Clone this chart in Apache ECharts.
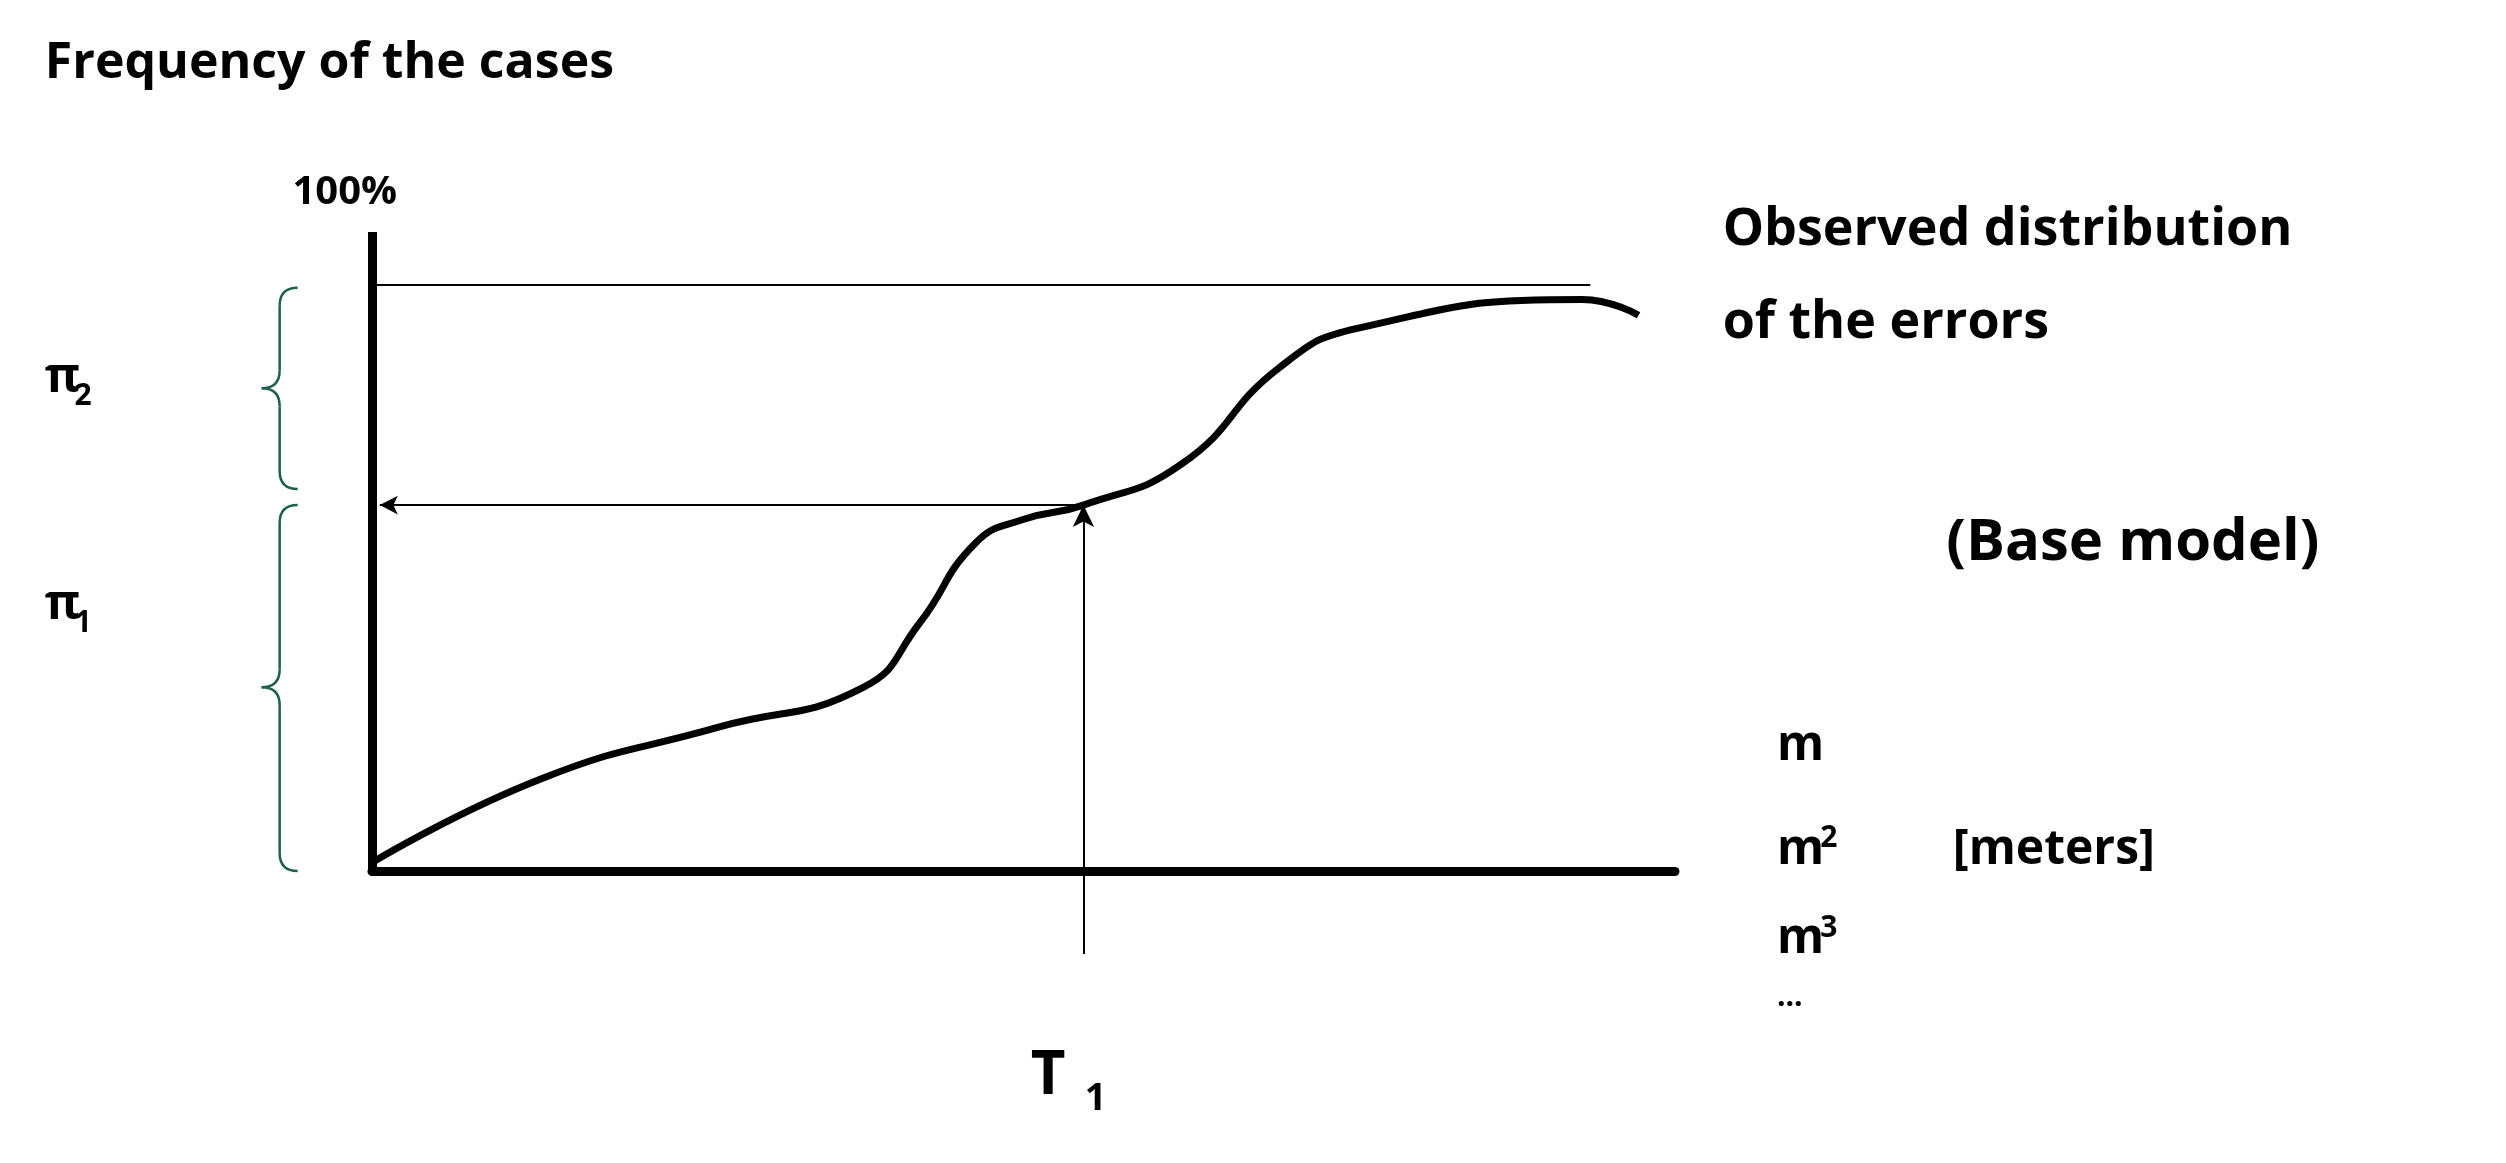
<!DOCTYPE html>
<html><head><meta charset="utf-8">
<script src="https://cdn.jsdelivr.net/npm/echarts@6/dist/echarts.min.js"></script>
<style>html,body{margin:0;background:#fff}#c{width:2506px;height:1163px}</style>
</head><body><div id="c"></div>
<script>
const curveX = [0, 13.1, 26.6, 37.7, 42, 46.3, 49.9, 54.6, 62.2, 69.6, 75.7, 92.9, 97.2];
const curveY = [1.4, 15.8, 24.5, 31.3, 42.2, 55.9, 59.9, 62.4, 69.5, 85.8, 92.6, 97.5, 94.8];
const T1 = 54.6, T1y = 62.4;
const S = 1.598;
const F = 'Open Sans, Noto Sans, sans-serif';
const chart = echarts.init(document.getElementById('c'));
function txt(x, y, t, size) {
  return {type:'text', x: x*S, y: y*S, style:{text:t, font:'bold '+size+'px '+F, fill:'#000'}};
}
function brace(x, y1, y2, ym) {
  x*=S; y1*=S; y2*=S; ym*=S; const w=18;
  const st = {stroke:'#1f5f4f', lineWidth:2.5, fill:null};
  const q = (a,b,c,d,e,f)=>({type:'bezierCurve', shape:{x1:a,y1:b,cpx1:c,cpy1:d,x2:e,y2:f}, style:st});
  const l = (a,b,c,d)=>({type:'line', shape:{x1:a,y1:b,x2:c,y2:d}, style:st});
  return [
    q(x+w,y1,x,y1,x,y1+w), l(x,y1+w,x,ym-w), q(x,ym-w,x,ym,x-w,ym),
    q(x-w,ym,x,ym,x,ym+w), l(x,ym+w,x,y2-w), q(x,y2-w,x,y2,x+w,y2)
  ];
}
function sub(x, y, a, s, size, subSize, up) {
  return [
    {type:'text', x:x*S, y:y*S, style:{text:a, font:'bold '+size+'px '+F, fill:'#000'}},
    {type:'text', x:x*S + size*(a==='π'?0.62:0.9), y:y*S + (up ? -size*0.05 : size*0.55), style:{text:s, font:'bold '+subSize+'px '+F, fill:'#000'}}
  ];
}
chart.setOption({
  animation:false,
  grid:{left:372, right:831, top:232, bottom:175},
  xAxis:{type:'value', min:0, max:100, axisLine:{onZero:true, lineStyle:{color:'#000', width:9}}, axisTick:{show:false}, axisLabel:{show:false}, splitLine:{show:false}},
  yAxis:{type:'value', min:-20, max:109, axisLine:{show:false}, axisTick:{show:false}, axisLabel:{show:false}, splitLine:{show:false}},
  series:[{
    type:'line', smooth:0.5, symbol:'none', data: curveX.map((x,i)=>[x,curveY[i]]),
    lineStyle:{color:'#000', width:7},
    markLine:{silent:true, symbol:['none','none'], label:{show:false},
      data:[
        [{coord:[0,0], lineStyle:{width:9,color:'#000',type:'solid'}},{coord:[0,109]}],
        [{coord:[0,100], lineStyle:{width:2,color:'#000',type:'solid'}},{coord:[93.5,100]}],
        [{coord:[T1,-14.2], symbol:'none', lineStyle:{width:2,color:'#000',type:'solid'}},{coord:[T1,T1y], symbol:'arrow', symbolSize:[16,22]}],
        [{coord:[T1,T1y], symbol:'none', lineStyle:{width:2,color:'#000',type:'solid'}},{coord:[0.6,T1y], symbol:'arrow', symbolSize:[14,18]}]
      ]}
  }],
  graphic:[
    txt(28,24,'Frequency of the cases',50),
    txt(183,108,'100%',40),
    txt(1078,128,'Observed distribution',52),
    txt(1078,186,'of the errors',52),
    txt(1218,322,'(Base model)',58),
    txt(1112,452,'m',48),
    ...sub(1112,517,'m','2',48,30,true),
    txt(1222,517,'[meters]',48),
    ...sub(1112,573,'m','3',48,30,true),
    txt(1112,615,'...',30),
    ...sub(645,655,'T','1',60,38,false),
    ...sub(28,222,'π','2',48,30,false),
    ...sub(28,364,'π','1',48,30,false),
    ...brace(175,180,306,243),
    ...brace(175,316,545,430)
  ]
});
</script></body></html>
